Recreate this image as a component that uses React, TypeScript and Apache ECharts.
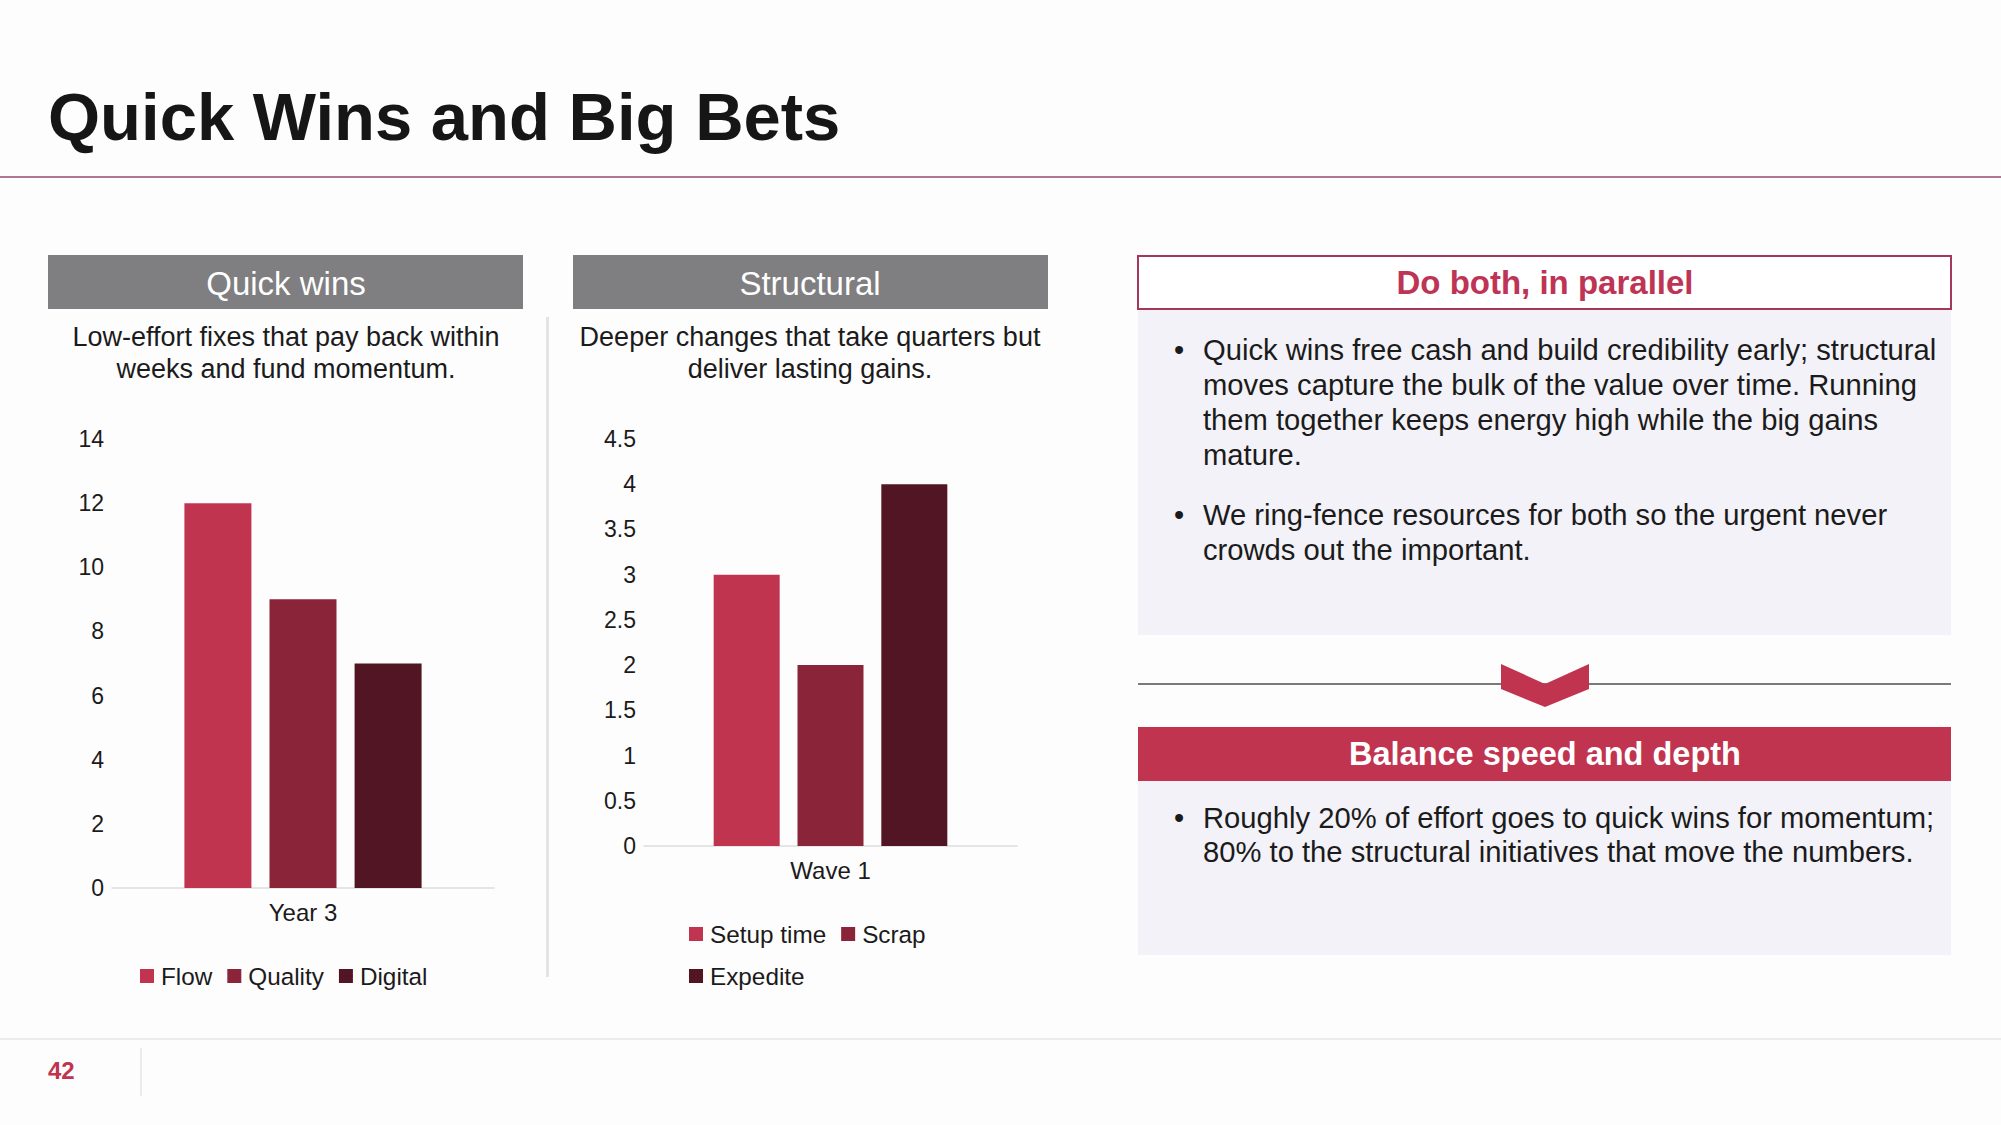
import React, { useEffect, useRef } from "react";
import * as echarts from "echarts";

const FONT = "'Liberation Sans', Arial, Helvetica, sans-serif";

const quickCategories = ["Year 3"];
const quickSeries = ["Flow", "Quality", "Digital"];
const quickValues = [12, 9, 7];
const quickTicks = { min: 0, max: 14, interval: 2 };

const structCategories = ["Wave 1"];
const structSeries = ["Setup time", "Scrap", "Expedite"];
const structValues = [3, 2, 4];
const structTicks = { min: 0, max: 4.5, interval: 0.5 };

const barColors = ["#C0344F", "#8A2439", "#511523"];

const pageTitle = "Quick Wins and Big Bets";
const panelHeaders = ["Quick wins", "Structural"];
const panelSubtitles = [
  ["Low-effort fixes that pay back within", "weeks and fund momentum."],
  ["Deeper changes that take quarters but", "deliver lasting gains."],
];
const rightHeader1 = "Do both, in parallel";
const rightBullets1 = [
  [
    "Quick wins free cash and build credibility early; structural",
    "moves capture the bulk of the value over time. Running",
    "them together keeps energy high while the big gains",
    "mature.",
  ],
  ["We ring-fence resources for both so the urgent never", "crowds out the important."],
];
const rightHeader2 = "Balance speed and depth";
const rightBullets2 = [
  [
    "Roughly 20% of effort goes to quick wins for momentum;",
    "80% to the structural initiatives that move the numbers.",
  ],
];
const pageNumber = "42";

const CRIMSON = "#C0344F";
const TEXT = "#1b1b1b";

function txt(text: string, x: number, y: number, size: number, opts: any = {}) {
  return {
    type: "text",
    x,
    y,
    silent: true,
    z: 10,
    style: {
      text,
      fontSize: size,
      fontFamily: FONT,
      fontWeight: opts.bold ? "bold" : "normal",
      fill: opts.fill || TEXT,
      align: opts.align || "left",
      verticalAlign: "middle",
    },
  };
}

function bulletBlock(blocks: string[][], startYs: number[], lineH: number) {
  const out: any[] = [];
  blocks.forEach((lines, bi) => {
    out.push(txt("•", 1179, startYs[bi], 29, { align: "center" }));
    lines.forEach((l, li) => {
      out.push(txt(l, 1203, startYs[bi] + li * lineH, 29.2));
    });
  });
  return out;
}

export default function App() {
  const ref = useRef<HTMLDivElement>(null);
  useEffect(() => {
    if (!ref.current) return;
    const chart = echarts.init(ref.current, undefined, { renderer: "svg" });

    const graphic: any[] = [
      txt(pageTitle, 48, 116, 67, { bold: true, fill: "#161616" }),
      { type: "line", shape: { x1: 0, y1: 177, x2: 2001, y2: 177 }, style: { stroke: "#964A6E", lineWidth: 1.5 }, silent: true },
      // headers
      { type: "rect", shape: { x: 48, y: 255, width: 475, height: 54 }, style: { fill: "#7F7E80" }, silent: true },
      { type: "rect", shape: { x: 573, y: 255, width: 475, height: 54 }, style: { fill: "#7F7E80" }, silent: true },
      txt(panelHeaders[0], 286, 283, 33, { align: "center", fill: "#ffffff" }),
      txt(panelHeaders[1], 810, 283, 33, { align: "center", fill: "#ffffff" }),
      txt(panelSubtitles[0][0], 286, 337, 27, { align: "center" }),
      txt(panelSubtitles[0][1], 286, 369, 27, { align: "center" }),
      txt(panelSubtitles[1][0], 810, 337, 27, { align: "center" }),
      txt(panelSubtitles[1][1], 810, 369, 27, { align: "center" }),
      { type: "rect", shape: { x: 546, y: 317, width: 3, height: 660 }, style: { fill: "#E4E4E6" }, silent: true },
      // right panel top
      { type: "rect", shape: { x: 1138, y: 256, width: 813, height: 53 }, style: { fill: "#FFFFFF", stroke: "#A3385A", lineWidth: 2 }, silent: true },
      txt(rightHeader1, 1545, 282, 33, { align: "center", bold: true, fill: "#BE3455" }),
      { type: "rect", shape: { x: 1138, y: 310, width: 813, height: 325 }, style: { fill: "#F3F2F8" }, silent: true },
      ...bulletBlock(rightBullets1, [350, 515], 35),
      // divider + chevron
      { type: "line", shape: { x1: 1138, y1: 684, x2: 1951, y2: 684 }, style: { stroke: "#7A7A7A", lineWidth: 2 }, silent: true },
      {
        type: "polygon",
        shape: { points: [[1501, 664], [1545, 684], [1589, 664], [1589, 689], [1545, 707], [1501, 689]] },
        style: { fill: CRIMSON },
        z: 5,
        silent: true,
      },
      { type: "rect", shape: { x: 1138, y: 727, width: 813, height: 54 }, style: { fill: CRIMSON }, silent: true },
      txt(rightHeader2, 1545, 754, 32.5, { align: "center", bold: true, fill: "#ffffff" }),
      { type: "rect", shape: { x: 1138, y: 781, width: 813, height: 174 }, style: { fill: "#F3F2F8" }, silent: true },
      ...bulletBlock(rightBullets2, [818], 34),
      // footer
      { type: "line", shape: { x1: 0, y1: 1039, x2: 2001, y2: 1039 }, style: { stroke: "#E6E6E8", lineWidth: 1.5 }, silent: true },
      { type: "line", shape: { x1: 141, y1: 1048, x2: 141, y2: 1096 }, style: { stroke: "#E6E6E8", lineWidth: 1.5 }, silent: true },
      txt(pageNumber, 48, 1070, 24, { bold: true, fill: CRIMSON }),
    ];

    const axisLabelStyle = { fontSize: 23, fontFamily: FONT, color: TEXT };

    const series: any[] = [];
    quickSeries.forEach((name, i) => {
      series.push({
        type: "bar",
        name,
        xAxisIndex: 0,
        yAxisIndex: 0,
        data: [quickValues[i]],
        barWidth: 67,
        barGap: "27%",
        itemStyle: { color: barColors[i] },
      });
    });
    structSeries.forEach((name, i) => {
      series.push({
        type: "bar",
        name,
        xAxisIndex: 1,
        yAxisIndex: 1,
        data: [structValues[i]],
        barWidth: 66,
        barGap: "27%",
        itemStyle: { color: barColors[i] },
      });
    });

    const legendBase = {
      orient: "horizontal",
      icon: "rect",
      itemWidth: 14,
      itemHeight: 14,
      itemGap: 15,
      padding: 0,
      textStyle: { fontSize: 24.3, fontFamily: FONT, color: TEXT, padding: [0, 0, 0, 2] },
      selectedMode: false,
    };

    chart.setOption({
      animation: false,
      backgroundColor: "#FEFDFE",
      grid: [
        { left: 112, top: 439, width: 382, height: 449, containLabel: false },
        { left: 644, top: 439, width: 373, height: 407, containLabel: false },
      ],
      xAxis: [
        {
          gridIndex: 0,
          type: "category",
          data: quickCategories,
          axisLine: { lineStyle: { color: "#DDDDE0", width: 1.5 } },
          axisTick: { show: false },
          axisLabel: { ...axisLabelStyle, fontSize: 24, margin: 12 },
        },
        {
          gridIndex: 1,
          type: "category",
          data: structCategories,
          axisLine: { lineStyle: { color: "#DDDDE0", width: 1.5 } },
          axisTick: { show: false },
          axisLabel: { ...axisLabelStyle, fontSize: 24, margin: 12 },
        },
      ],
      yAxis: [
        {
          gridIndex: 0,
          type: "value",
          ...quickTicks,
          axisLine: { show: false },
          axisTick: { show: false },
          splitLine: { show: false },
          axisLabel: { ...axisLabelStyle, margin: 8 },
        },
        {
          gridIndex: 1,
          type: "value",
          ...structTicks,
          axisLine: { show: false },
          axisTick: { show: false },
          splitLine: { show: false },
          axisLabel: { ...axisLabelStyle, margin: 8 },
        },
      ],
      legend: [
        { ...legendBase, data: quickSeries, left: 140, top: 964 },
        { ...legendBase, data: structSeries.slice(0, 2), left: 689, top: 922 },
        { ...legendBase, data: structSeries.slice(2), left: 689, top: 964 },
      ],
      series,
      graphic,
    });

    return () => {
      chart.dispose();
    };
  }, []);

  return (
    <div
      ref={ref}
      style={{ position: "absolute", left: 0, top: 0, width: 2001, height: 1125 }}
    />
  );
}
